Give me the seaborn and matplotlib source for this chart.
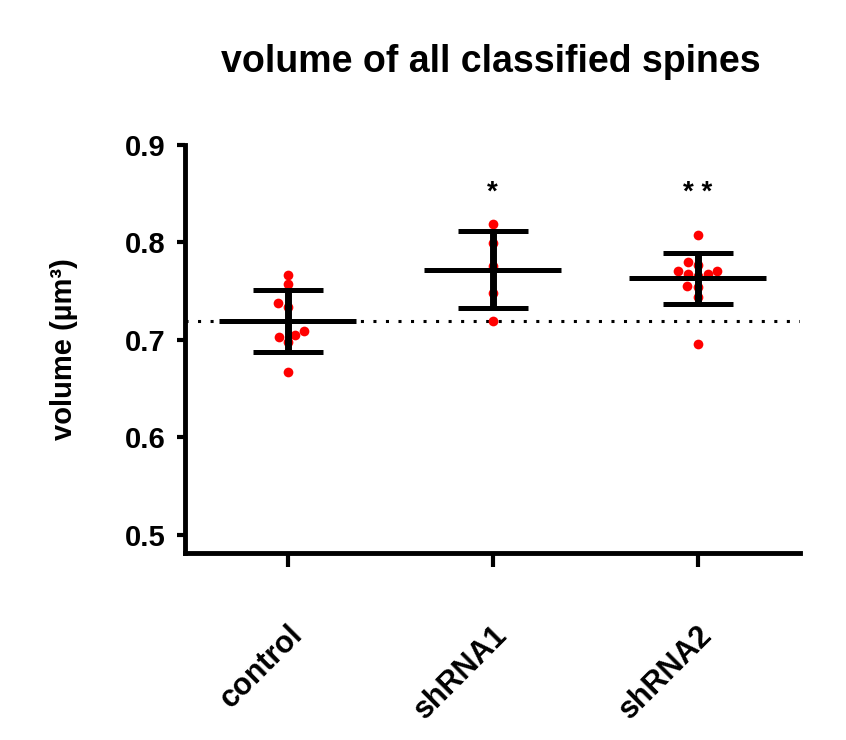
import numpy as np
import pandas as pd
import seaborn as sns
import matplotlib.pyplot as plt

# values (um^3)
groups = ['control', 'shRNA1', 'shRNA2']
control = [0.767, 0.757, 0.734, 0.738, 0.709, 0.703, 0.698, 0.705, 0.667]
shrna1 = [0.819, 0.799, 0.776, 0.748, 0.719]
shrna2 = [0.808, 0.780, 0.771, 0.768, 0.766, 0.768, 0.771, 0.777, 0.754, 0.755, 0.744, 0.696]
stars = ['', '*', '**']
yticks = [0.5, 0.6, 0.7, 0.8, 0.9]

df = pd.DataFrame({
    'group': ['control'] * len(control) + ['shRNA1'] * len(shrna1) + ['shRNA2'] * len(shrna2),
    'volume': control + shrna1 + shrna2,
})

sns.set_style('ticks')
plt.rcParams['font.family'] = ['Liberation Sans', 'DejaVu Sans']
plt.rcParams['font.weight'] = 'bold'
plt.rcParams['text.color'] = 'black'
plt.rcParams['axes.labelcolor'] = 'black'

fig = plt.figure(figsize=(8.46, 7.4), dpi=100)
ax = fig.add_axes([0.2187, 0.2527, 0.727, 0.5514])

# individual points
sns.swarmplot(data=df, x='group', y='volume', order=groups, color='red',
              size=7, ax=ax, zorder=2)

# mean +/- SD
stats = df.groupby('group')['volume'].agg(['mean', 'std']).reindex(groups)
pos = np.arange(len(groups))
ax.errorbar(pos, stats['mean'], yerr=stats['std'], fmt='none', ecolor='black',
            elinewidth=5, capsize=25, capthick=3.6, zorder=3)
ax.hlines(stats['mean'], pos - 0.335, pos + 0.335, color='black', lw=3.6, zorder=3)

# reference line at control mean
ax.axhline(stats.loc['control', 'mean'], color='black', lw=2.2,
           linestyle=(0, (1, 3.1)), zorder=1)

# significance marks
for i, s in enumerate(stars):
    if s:
        ax.text(i, 0.851, ' '.join(s), ha='center', va='center', fontsize=20,
                fontweight='bold')

ax.set_xlim(-0.5, 2.5)
ax.set_ylim(0.4815, 0.9)
ax.set_yticks(yticks)
ax.set_yticklabels([f'{t:.1f}' for t in yticks])
ax.set_xlabel('')
ax.set_ylabel('volume (µm³)', fontsize=21, fontweight='bold', labelpad=34)

for side in ['top', 'right']:
    ax.spines[side].set_visible(False)
for side in ['left', 'bottom']:
    ax.spines[side].set_linewidth(3.5)
    ax.spines[side].set_color('black')

ax.tick_params(axis='y', length=6, width=3, pad=8, labelsize=21, colors='black')
ax.tick_params(axis='x', length=10, width=3, pad=38, labelsize=22, colors='black')
plt.setp(ax.get_xticklabels(), rotation=45, ha='right', rotation_mode='anchor',
         fontweight='bold')
plt.setp(ax.get_yticklabels(), fontweight='bold')

fig.text(0.58, 0.916, 'volume of all classified spines', ha='center', va='center',
         fontsize=27, fontweight='bold')

fig.savefig('out.png', dpi=100)
